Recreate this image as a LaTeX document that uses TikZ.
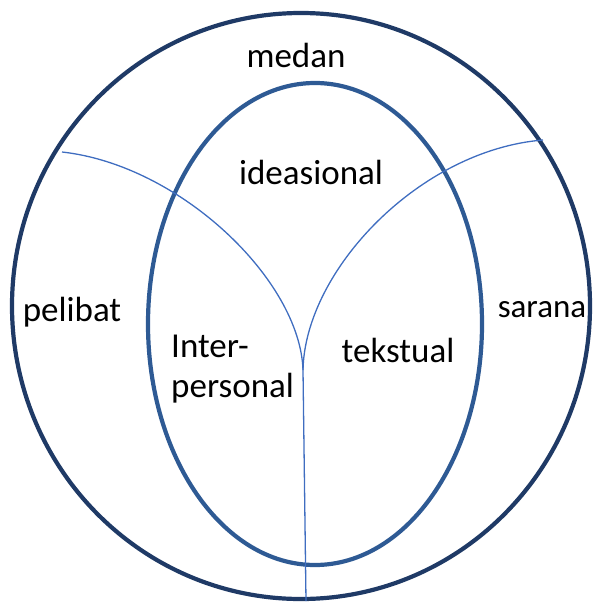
\documentclass[tikz,border=0pt]{standalone}
\usepackage{fontspec}
\setmainfont{Carlito}
\begin{document}
\begin{tikzpicture}[x=1pt,y=-1pt,
  outerring/.style={draw=navyring,line width=4.2pt},
  innerring/.style={draw=bluering,line width=4.2pt},
  divider/.style={draw=divblue,line width=1.3pt},
  lbl/.style={font=\fontsize{35}{40}\selectfont,text=black,inner sep=0pt},
  smalllbl/.style={lbl,font=\fontsize{33}{38}\selectfont}]
\definecolor{navyring}{HTML}{1F3A66}
\definecolor{bluering}{HTML}{2E5A94}
\definecolor{divblue}{HTML}{3F6DC0}
\useasboundingbox (0,0) rectangle (593,602);
% rings
\draw[outerring] (301,306) ellipse (289 and 293);
\draw[innerring] (315,324) ellipse (167 and 241);
% dividers
\coordinate (lstart) at (62,152);
\coordinate (rstart) at (543,140);
\coordinate (fork) at (303,370);
\coordinate (foot) at (306,601);
\draw[divider] (lstart) .. controls (180,165) and (300,280) .. (fork);
\draw[divider] (rstart) .. controls (420,150) and (305,270) .. (fork);
\draw[divider] (fork) -- (foot);
% labels
\node[lbl] (medan) at (296,55) {medan};
\node[lbl] (ideasional) at (311,172) {ideasional};
\node[lbl] (pelibat) at (72,312) {pelibat};
\node[smalllbl] (sarana) at (542,310) {sarana};
\node[lbl,anchor=west,align=left] (interpersonal) at (171,369) {Inter-\\personal};
\node[lbl] (tekstual) at (398,350) {tekstual};
\end{tikzpicture}
\end{document}
